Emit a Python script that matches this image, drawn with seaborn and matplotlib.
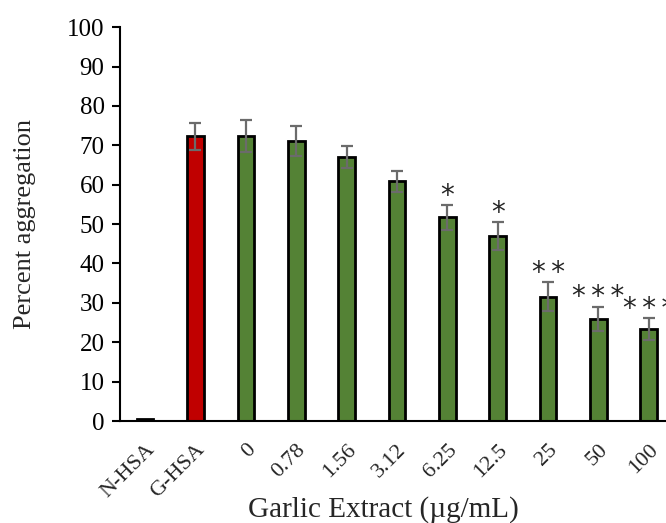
import numpy as np
import pandas as pd
import matplotlib
matplotlib.use("Agg")
import matplotlib.pyplot as plt
import seaborn as sns

# values
labels = ["N-HSA", "G-HSA", "0", "0.78", "1.56", "3.12", "6.25", "12.5", "25", "50", "100"]
means = [0.5, 72.3, 72.3, 71.1, 67.0, 60.9, 51.7, 47.0, 31.6, 25.9, 23.3]
errors = [0.0, 3.5, 4.1, 3.8, 2.8, 2.7, 3.1, 3.5, 3.6, 3.1, 2.8]
stars = ["", "", "", "", "", "", "*", "*", "**", "***", "***"]
colors = ["#595959", "#C00000"] + ["#548235"] * 9

df = pd.DataFrame({"group": labels, "pct": means})

sns.set_style("white")
plt.rcParams["font.family"] = ["Liberation Serif", "DejaVu Serif"]

fig = plt.figure(figsize=(6.66, 5.23), dpi=100)
ax = fig.add_axes([0.18, 0.195, 0.832, 0.753])

sns.barplot(data=df, x="group", y="pct", hue="group", palette=colors,
            order=labels, legend=False, width=0.33, saturation=1,
            edgecolor="black", linewidth=2, ax=ax)

x = np.arange(len(labels))
ax.errorbar(x[1:], means[1:], yerr=errors[1:], fmt="none", ecolor="#6b6b6b",
            elinewidth=1.6, capsize=4.5, capthick=1.6, zorder=5)

# significance marks above the error bars
for xi, m, e, s in zip(x, means, errors, stars):
    if s:
        ax.text(xi, m + e + 0.4, "\u2009".join(s), ha="center", va="baseline",
                fontsize=20, family="DejaVu Sans")

ax.set_ylim(0, 100)
ax.set_xlim(-0.5, len(labels) - 0.5)
ax.set_yticks(range(0, 101, 10))
ax.tick_params(axis="y", labelsize=18, direction="out", length=6, width=1.5,
               left=True, colors="black", pad=5)
ax.tick_params(axis="x", labelsize=16, length=0, pad=14)
plt.setp(ax.get_xticklabels(), rotation=45, ha="right", rotation_mode="anchor")

for side in ["top", "right"]:
    ax.spines[side].set_visible(False)
for side in ["left", "bottom"]:
    ax.spines[side].set_color("black")
    ax.spines[side].set_linewidth(1.5)

ax.set_ylabel("Percent aggregation", fontsize=19)
ax.set_xlabel("Garlic Extract (µg/mL)", fontsize=21)
ax.yaxis.set_label_coords(-0.152, 0.5)
ax.xaxis.set_label_coords(0.475, -0.19)

fig.savefig("out.png", dpi=100)
